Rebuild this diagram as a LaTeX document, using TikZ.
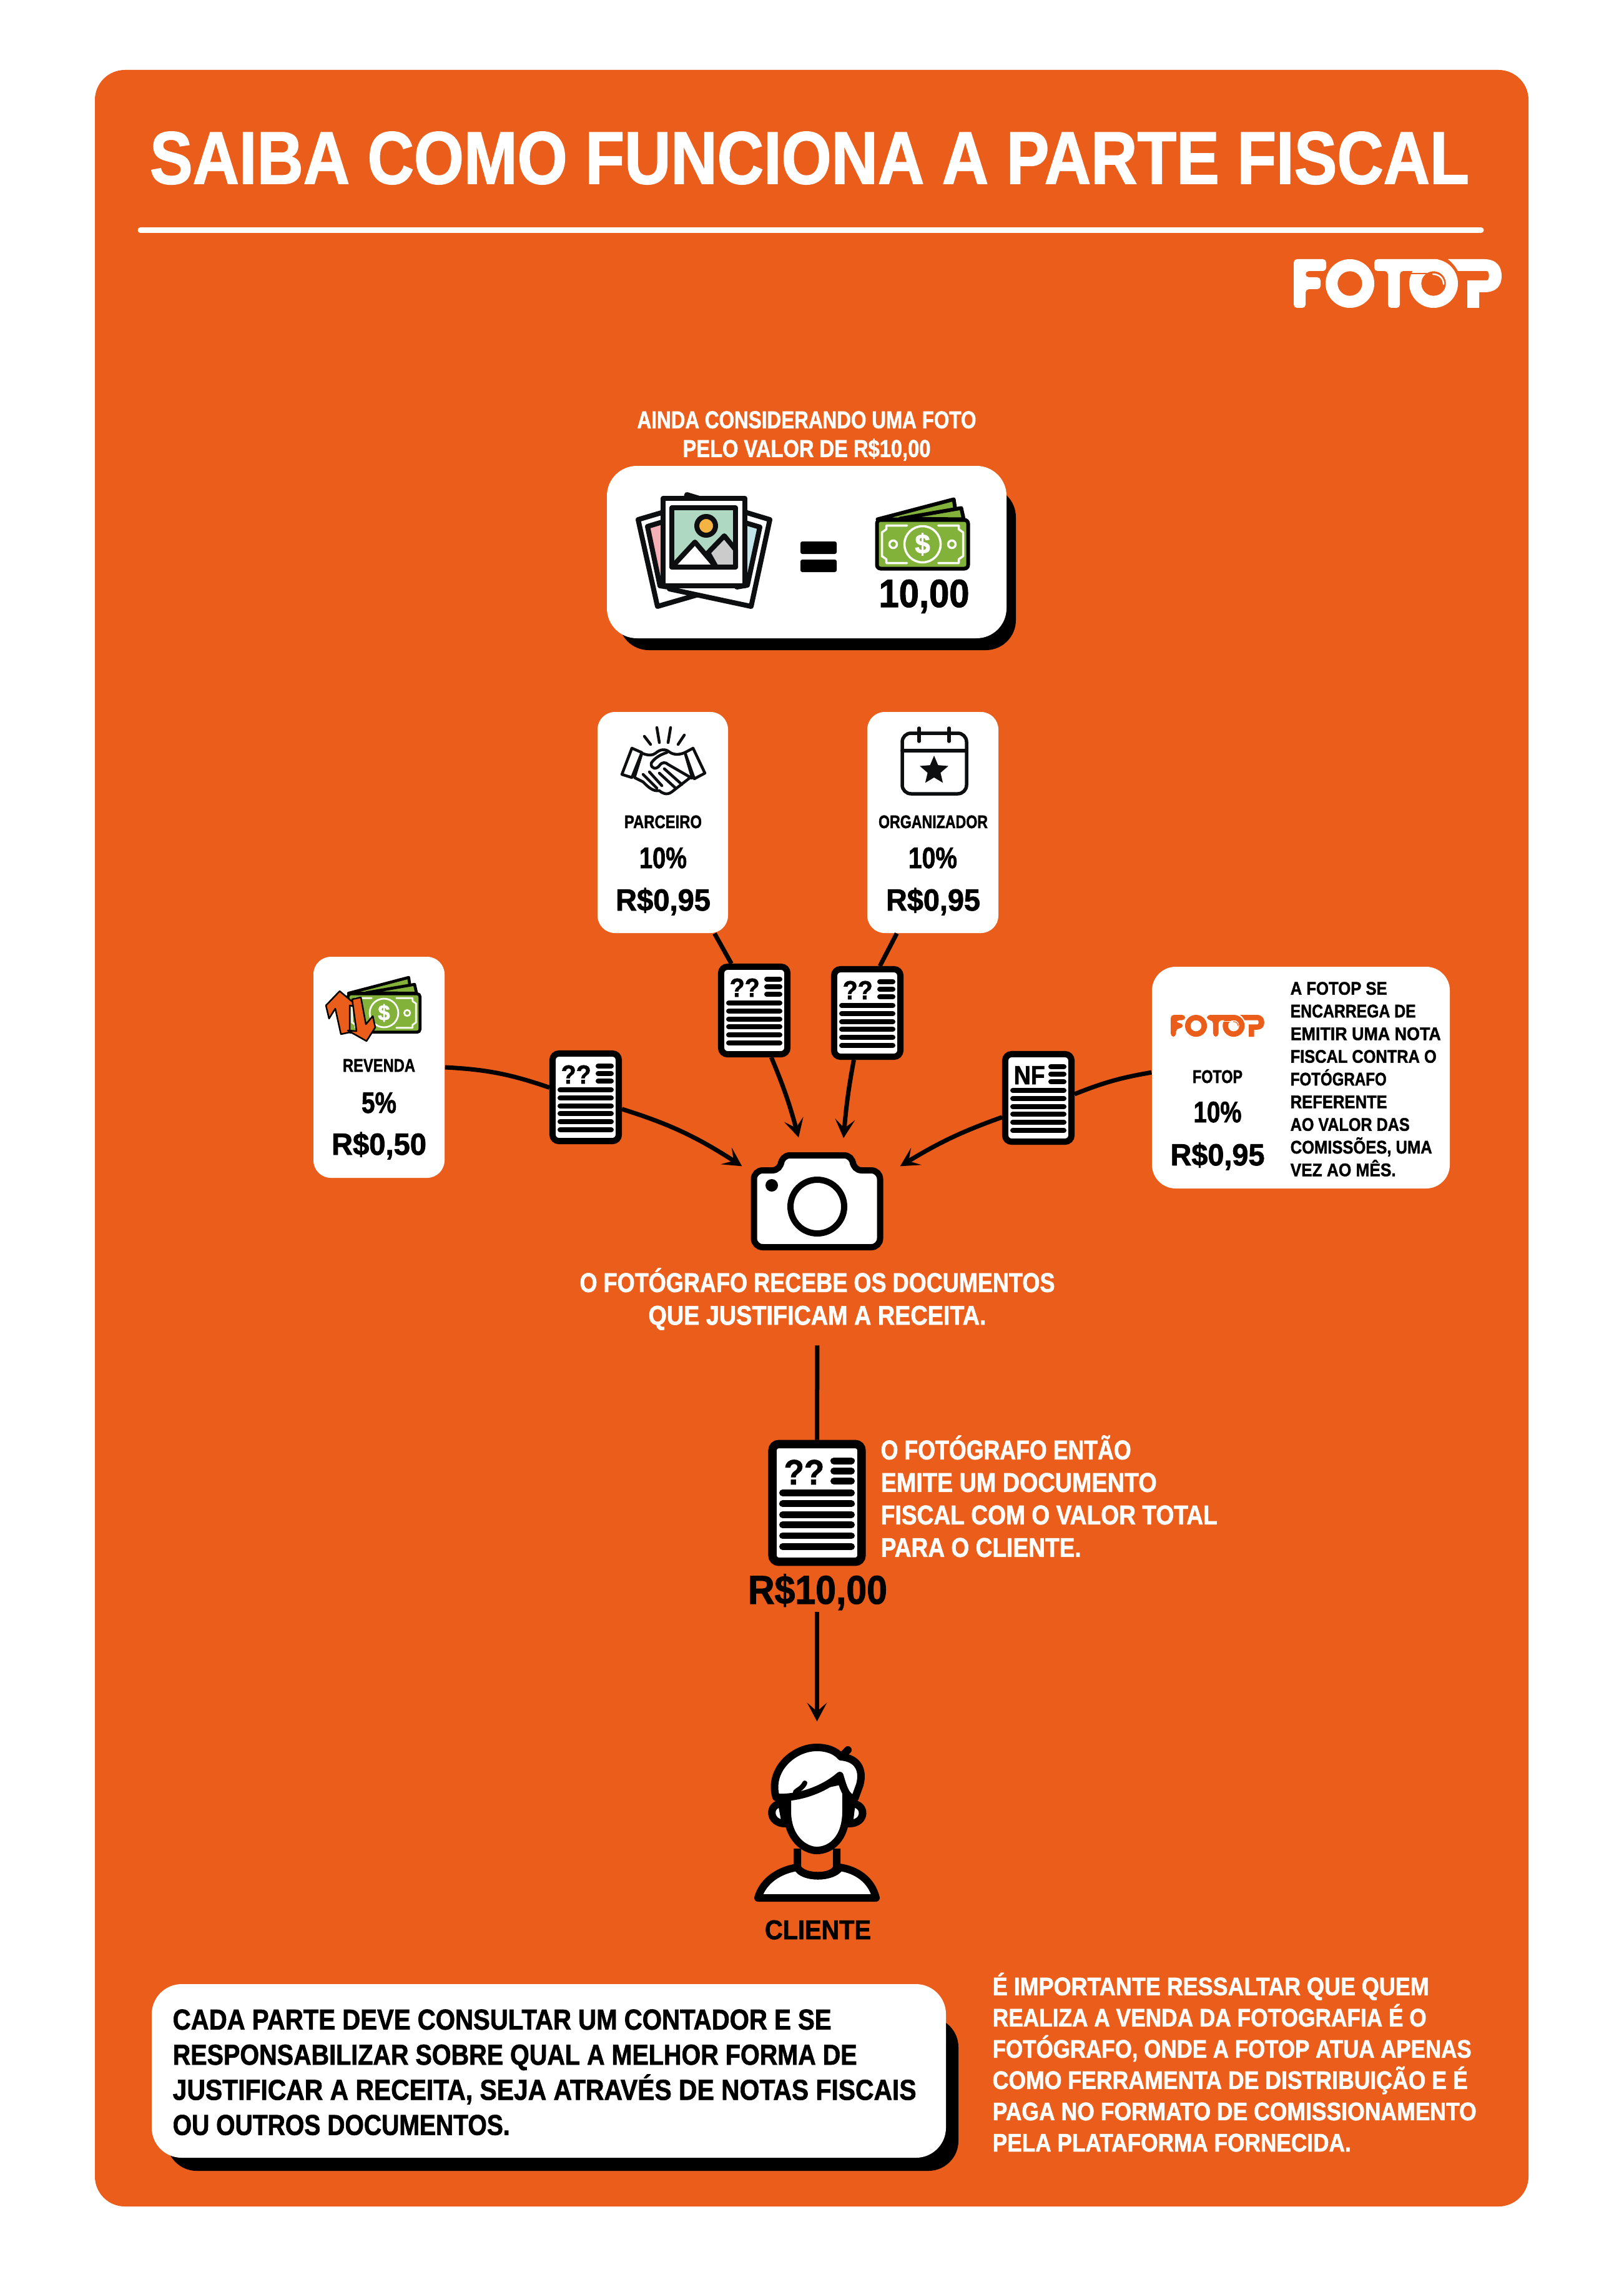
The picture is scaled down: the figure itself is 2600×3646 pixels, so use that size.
\documentclass[tikz,border=0pt]{standalone}
\usepackage{fontspec}
\usepackage{graphicx}
\usetikzlibrary{calc,arrows.meta,shapes.geometric,bending}
\newfontfamily\ff{Liberation Sans}[UprightFont={* Bold},FakeBold=1.6]
\newdimen\px \px=0.01cm
\lineskiplimit=-100pt
\definecolor{fotop}{RGB}{234,93,26}
\definecolor{ink}{RGB}{0,0,0}
\definecolor{soft}{RGB}{13,14,15}
\definecolor{bill}{RGB}{131,178,58}
\definecolor{mint}{RGB}{174,216,194}
\definecolor{sun}{RGB}{244,179,66}
\definecolor{rock}{RGB}{203,203,203}
\definecolor{pinkc}{RGB}{243,176,182}
\definecolor{bluec}{RGB}{191,227,232}
\newcommand\fit[2]{\resizebox{#1\px}{\height}{#2}}
\newcommand\first{\rule{0pt}{40\px}}
\tikzset{
  card/.style={fill=white,inner sep=0pt,rounded corners=#1},
  para/.style n args={2}{inner sep=0pt,font=\ff\fontsize{#1}{#2}\selectfont},
  lbl/.style={inner sep=0pt,anchor=base,text=ink,font=\ff\fontsize{#1}{#1}\selectfont},
  conn/.style={draw=ink,line width=7\px},
  tip/.style={-{Stealth[length=8.5pt,width=9pt,inset=4pt]}},
  docbox/.style={draw=ink,fill=white,inner sep=0pt,rounded corners=10\px},
  glyph/.style={draw=soft,line join=round,line cap=round},
  billc/.style={draw=white,line join=round,line cap=round},
}
% name, cx, cy, scale, label, label width
\newcommand\docicon[6]{%
  \node[docbox,line width=#4*10\px,minimum width=#4*1.06cm,minimum height=#4*1.40cm] (#1) at (#2,#3) {};
  \begin{scope}[shift={(#2,#3)},scale=#4]
    \foreach \yy in {-12,1,14,26,39,52}{\draw[ink,line width=#4*8\px,line cap=round] (-41,\yy) -- (41,\yy);}
    \foreach \yy in {-50,-38,-26}{\draw[ink,line width=#4*8\px,line cap=round] (20,\yy) -- (41,\yy);}
    \node[inner sep=0pt,anchor=base west,text=ink,transform shape,font=\ff\fontsize{11.9}{12}\selectfont] (#1l) at (-40,-22) {\fit{#6}{#5}};
  \end{scope}}
% cx, cy, scale
\newcommand\moneyicon[3]{%
  \begin{scope}[shift={(#1,#2)},scale=#3]
    \filldraw[fill=bill,draw=ink,line width=#3*6\px,line join=round] (-72,-40) -- (50,-72) -- (55,-40) -- cycle;
    \filldraw[fill=bill,draw=ink,line width=#3*6\px,line join=round] (-36,-41) -- (62,-58) -- (66,-40) -- cycle;
    \filldraw[fill=bill,draw=ink,line width=#3*6\px,rounded corners=#3*6\px] (-73,-39) rectangle (73,39);
    \draw[billc,line width=#3*3.5\px] (-25,-30) -- (-58,-30) -- (-58,-24) -- (-65,-19) -- (-65,19) -- (-58,24) -- (-58,30) -- (-25,30);
    \draw[billc,line width=#3*3.5\px] (25,-30) -- (58,-30) -- (58,-24) -- (65,-19) -- (65,19) -- (58,24) -- (58,30) -- (25,30);
    \draw[billc,line width=#3*3.5\px] (0,0) circle (29);
    \draw[billc,line width=#3*3.5\px] (-47,0) circle (6);
    \draw[billc,line width=#3*3.5\px] (47,0) circle (6);
    \node[inner sep=0pt,text=white,transform shape,font=\ff\fontsize{12.5}{13}\selectfont] (dollar#1) at (0,0) {\$};
  \end{scope}}
% x, y, scale, fg, bg
\newcommand\fotoplogo[5]{%
  \begin{scope}[shift={(#1,#2)},scale=#3]
    \fill[#4,rounded corners=1.5] (0,0) -- (52,0) -- (52,19) -- (19,19) -- (19,29) -- (43,29) -- (43,48) -- (19,48) -- (19,78) -- (0,78) -- cycle;
    \fill[#4,even odd rule] (90,39) circle (39) (90,39) circle (19.7);
    \fill[#4,even odd rule] (224,39) circle (39) (224,39) circle (19.5);
    \fill[#4,rounded corners=1.5] (129,0) -- (235,0) -- (235,19) -- (170,19) -- (170,78) -- (151,78) -- (151,19) -- (129,19) -- cycle;
    \fill[#4] (247,0) -- (305,0) .. controls (325,0) and (333,12) .. (333,27) .. controls (333,42) and (325,53) .. (305,53) -- (297,53) -- (297,78) -- (278,78) -- (278,34) -- (309,34) .. controls (314,34) and (314,19) .. (309,19) -- (263,19) .. controls (258,10) and (253,5) .. (247,0) -- cycle;
    \fill[#5] (224,39) circle (19.5);
    \draw[#5,line width=#3*1.5\px] (187,23) -- (213,23);
    \draw[#4,line width=#3*2.5\px,line cap=round] (223,24) .. controls (233,24) and (240,31) .. (240,40);
  \end{scope}}
\begin{document}
\begin{tikzpicture}[x=0.01cm,y=-0.01cm]
\useasboundingbox (0,0) rectangle (2600,3646);
\fill[white] (0,0) rectangle (2600,3646);
\fill[fotop,rounded corners=48\px] (152,112) rectangle (2448,3533);

% title
\node[lbl=33.8,text=white] (title) at (1296.5,294) {\fit{2113}{SAIBA COMO FUNCIONA A PARTE FISCAL}};
\draw[white,line width=9\px,line cap=round] (225,368.5) -- (2372,368.5);
\fotoplogo{2072}{415}{1}{white}{fotop}

% intro
\node[para={11.1}{13.1},align=center,anchor=north,text=white] (intro) at (1292,645) {\first\fit{543}{AINDA CONSIDERANDO UMA FOTO}\\\fit{397}{PELO VALOR DE R\$10,00}};
\fill[ink,rounded corners=48\px] (991,780) rectangle (1627,1041);
\node[card=48\px,minimum width=640\px,minimum height=276\px] (valuebox) at (1292,884) {};

% photos
\begin{scope}[line width=8\px]
\filldraw[glyph,fill=white] (1022,832) -- (1130,800) -- (1160,940) -- (1053,971) -- cycle;
\filldraw[glyph,fill=pinkc] (1037,843) -- (1070,833) -- (1070,940) -- (1057,938) -- cycle;
\filldraw[glyph,fill=white] (1233,832) -- (1100,792) -- (1072,943) -- (1203,971) -- cycle;
\filldraw[glyph,fill=bluec] (1217,844) -- (1180,833) -- (1180,940) -- (1197,937) -- cycle;
\filldraw[glyph,fill=white] (1062,798) rectangle (1193,938);
\filldraw[glyph,fill=mint] (1076,813) rectangle (1178,908);
\filldraw[glyph,fill=rock] (1134,885) -- (1160,858) -- (1178,880) -- (1178,908) -- (1147,908) -- cycle;
\filldraw[glyph,fill=white] (1076,908) -- (1113,868) -- (1147,908) -- cycle;
\filldraw[glyph,fill=sun] (1131,842) circle (15);
\end{scope}
% equals
\fill[ink,rounded corners=3\px] (1282,867) rectangle (1340,887);
\fill[ink,rounded corners=3\px] (1282,896) rectangle (1340,916);
\moneyicon{1477.5}{871.5}{1}
\node[lbl=17.9] (ten) at (1480,972) {\fit{145}{10,00}};

% cards
\node[card=28\px,minimum width=209\px,minimum height=354\px] (parceiro) at (1061.5,1317) {};
\node[card=28\px,minimum width=210\px,minimum height=354\px] (organizador) at (1494,1317) {};
\node[card=28\px,minimum width=210\px,minimum height=354\px] (revenda) at (607,1709) {};
\node[card=38\px,minimum width=477\px,minimum height=355\px] (fotopcard) at (2083.5,1725.5) {};

% card text
\node[lbl=8.3] (pa) at (1062,1326) {\fit{124}{PARCEIRO}};
\node[lbl=13.5] (pb) at (1062,1390) {\fit{76}{10\%}};
\node[lbl=13.9] (pc) at (1062,1458) {\fit{152}{R\$0,95}};
\node[lbl=8.3] (oa) at (1494.5,1326) {\fit{175}{ORGANIZADOR}};
\node[lbl=13.5] (ob) at (1494,1390) {\fit{78}{10\%}};
\node[lbl=13.9] (oc) at (1494.5,1458) {\fit{151}{R\$0,95}};
\node[lbl=8.3] (ra) at (607,1716) {\fit{116}{REVENDA}};
\node[lbl=13.5] (rb) at (607,1782) {\fit{56}{5\%}};
\node[lbl=13.9] (rc) at (607,1849) {\fit{152}{R\$0,50}};
\node[lbl=8.3] (fa) at (1950,1734) {\fit{80}{FOTOP}};
\node[lbl=13.5] (fb) at (1950,1797) {\fit{77}{10\%}};
\node[lbl=13.9] (fc) at (1950,1866) {\fit{151}{R\$0,95}};
\node[para={8.3}{10.33},align=left,anchor=north west,text=ink] (fnote) at (2066,1552) {\first\fit{155}{A FOTOP SE}\\\fit{201}{ENCARREGA DE}\\\fit{241}{EMITIR UMA NOTA}\\\fit{234}{FISCAL CONTRA O}\\\fit{154}{FOTÓGRAFO}\\\fit{155}{REFERENTE}\\\fit{191}{AO VALOR DAS}\\\fit{227}{COMISSÕES, UMA}\\\fit{169}{VEZ AO MÊS.}};
\fotoplogo{1875}{1625}{0.45}{fotop}{white}

% handshake
\begin{scope}[line width=4.5\px]
\draw[glyph] (1032,1179) -- (1042,1192);
\draw[glyph] (1052,1165) -- (1056,1189);
\draw[glyph] (1074,1165) -- (1070,1189);
\draw[glyph] (1096,1177) -- (1086,1192);
\filldraw[glyph,fill=white] (1012,1198) -- (1028,1205) -- (1012,1245) -- (996,1240) -- cycle;
\filldraw[glyph,fill=white] (1110,1198) -- (1097,1205) -- (1112,1247) -- (1129,1238) -- cycle;
\filldraw[glyph,fill=white] (1028,1206) .. controls (1038,1210) and (1045,1210) .. (1050,1206) .. controls (1058,1199) and (1066,1199) .. (1072,1204) .. controls (1080,1210) and (1090,1208) .. (1097,1205) -- (1108,1243) -- (1076,1268) .. controls (1068,1274) and (1060,1270) .. (1056,1266) .. controls (1045,1268) and (1036,1258) .. (1030,1252) -- (1016,1245) -- cycle;
\draw[glyph] (1068,1205) .. controls (1058,1208) and (1048,1214) .. (1043,1222) .. controls (1042,1232) and (1052,1232) .. (1056,1226) .. controls (1060,1220) and (1066,1220) .. (1070,1224) -- (1108,1246);
\draw[glyph] (1064,1231) -- (1092,1256);
\draw[glyph] (1056,1238) -- (1082,1262);
\draw[glyph] (1030,1240) -- (1052,1262);
\draw[glyph] (1040,1236) -- (1060,1258);
\end{scope}
% calendar
\begin{scope}[line width=5.5\px]
\draw[glyph,rounded corners=14\px] (1445,1174) rectangle (1548,1271);
\draw[glyph] (1445,1202) -- (1548,1202);
\draw[glyph] (1472,1166) -- (1472,1187);
\draw[glyph] (1520,1166) -- (1520,1187);
\node[star,star points=5,star point ratio=2.2,fill=soft,inner sep=0pt,minimum size=0.48cm] (calstar) at (1496,1234) {};
\end{scope}
% resale icon
\moneyicon{615}{1622}{0.79}
\filldraw[fill=fotop,draw=ink,line width=2.5\px,line join=round] (544,1587) -- (575,1613) -- (560,1610) -- (560,1653) -- (546,1656) -- (537,1615) -- (527,1631) -- (522,1610) -- cycle;
\filldraw[fill=fotop,draw=ink,line width=2.5\px,line join=round] (587,1667) -- (557,1650) -- (571,1651) -- (564,1600) -- (578,1597) -- (586,1640) -- (597,1627) -- (601,1645) -- cycle;

% documents
\docicon{da}{938}{1757}{1}{??}{48}
\docicon{db}{1208}{1618}{1}{??}{48}
\docicon{dc}{1389}{1622}{1}{??}{48}
\docicon{dd}{1663}{1758}{1}{NF}{50}
\docicon{de}{1308.5}{2406.5}{1.345}{??}{48}

% camera
\node[inner sep=0pt,minimum width=211\px,minimum height=155\px] (camera) at (1308.5,1923.5) {};
\filldraw[fill=white,draw=ink,line width=10\px,rounded corners=14\px] (1207.5,1874) -- (1251,1874) -- (1251,1850) -- (1366,1850) -- (1366,1874) -- (1409.5,1874) -- (1409.5,1997) -- (1207.5,1997) -- cycle;
\filldraw[fill=white,draw=ink,line width=10\px] (1309,1932) circle (43);
\fill[ink] (1236,1898) circle (10);

% connectors
\draw[conn] (parceiro.-65) -- (db.116);
\draw[conn] (organizador.-108) -- (dc.75);
\draw[conn] (revenda.east) to[bend left=8] (da.165);
\draw[conn] (fotopcard.178) to[bend right=6] (dd.6);
\draw[conn,tip] (da.-18) to[bend left=8] ($(camera.north west)+(-14,22)$);
\draw[conn,tip] (db.-70) to[bend left=4] ($(camera.north)+(-29.5,-24)$);
\draw[conn,tip] (dc.-106) to[bend right=3] ($(camera.north)+(42.5,-23)$);
\draw[conn,tip] (dd.208) to[bend right=6] ($(camera.north east)+(27,22)$);

% lower text
\node[para={12.3}{14.9},align=center,anchor=north,text=white] (recebe) at (1309,2028) {\first\fit{761}{O FOTÓGRAFO RECEBE OS DOCUMENTOS}\\\fit{541}{QUE JUSTIFICAM A RECEITA.}};
\node[para={12.3}{14.8},align=left,anchor=north west,text=white] (emite) at (1410,2296) {\first\fit{401}{O FOTÓGRAFO ENTÃO}\\\fit{442}{EMITE UM DOCUMENTO}\\\fit{539}{FISCAL COM O VALOR TOTAL}\\\fit{321}{PARA O CLIENTE.}};
\node[lbl=18.3] (rten) at (1309.5,2568) {\fit{223}{R\$10,00}};

% client
\node[inner sep=0pt,minimum width=201\px,minimum height=253\px] (person) at (1308.5,2918.5) {};
\draw[conn,shorten <=24\px] (recebe.south) -- (de.north);
\draw[conn,tip,shorten >=35\px] ($(rten.base)+(-1,13)$) -- (person.north);
\begin{scope}[line width=12\px]
\filldraw[draw=ink,fill=white,line join=round] (1214,3039) .. controls (1222,3010) and (1250,2994) .. (1277,2990) .. controls (1285,3008) and (1335,3008) .. (1345,2990) .. controls (1372,2994) and (1396,3010) .. (1403,3039) -- cycle;
\draw[ink] (1277,2960) -- (1277,2990) .. controls (1285,3008) and (1335,3008) .. (1340,2990) -- (1340,2960);
\filldraw[draw=ink,fill=white] (1252,2888) .. controls (1230,2888) and (1230,2920) .. (1258,2920) -- cycle;
\filldraw[draw=ink,fill=white] (1364,2888) .. controls (1388,2888) and (1388,2920) .. (1360,2920) -- cycle;
\filldraw[draw=ink,fill=white] (1261,2870) -- (1261,2900) .. controls (1261,2945) and (1290,2963) .. (1308,2963) .. controls (1330,2963) and (1355,2945) .. (1355,2900) -- (1355,2850) -- cycle;
\filldraw[draw=ink,fill=white,line join=round] (1243,2878) .. controls (1230,2835) and (1270,2798) .. (1308,2798) .. controls (1325,2798) and (1338,2803) .. (1347,2813) .. controls (1372,2815) and (1384,2832) .. (1377,2858) -- (1369,2880) .. controls (1355,2880) and (1350,2860) .. (1345,2843) .. controls (1320,2865) and (1280,2880) .. (1243,2878) -- cycle;
\draw[ink,line cap=round] (1347,2813) -- (1358,2802);
\draw[ink,line width=8\px,line cap=round] (1275,2872) .. controls (1270,2868) and (1284,2866) .. (1289,2855);
\end{scope}
\node[lbl=12.3] (cliente) at (1310,3105) {\fit{170}{CLIENTE}};

% bottom
\fill[ink,rounded corners=48\px] (267,3230) rectangle (1535,3476);
\node[card=48\px,minimum width=1272\px,minimum height=278\px] (notebox) at (879,3316) {};
\node[para={13.1}{16.0},align=left,anchor=north west,text=ink] (notetext) at (276,3209) {\first\fit{1055}{CADA PARTE DEVE CONSULTAR UM CONTADOR E SE}\\\fit{1096}{RESPONSABILIZAR SOBRE QUAL A MELHOR FORMA DE}\\\fit{1191}{JUSTIFICAR A RECEITA, SEJA ATRAVÉS DE NOTAS FISCAIS}\\\fit{540}{OU OUTROS DOCUMENTOS.}};
\node[para={11.5}{14.23},align=left,anchor=north west,text=white] (sidetext) at (1589,3154) {\first\fit{699}{É IMPORTANTE RESSALTAR QUE QUEM}\\\fit{695}{REALIZA A VENDA DA FOTOGRAFIA É O}\\\fit{767}{FOTÓGRAFO, ONDE A FOTOP ATUA APENAS}\\\fit{761}{COMO FERRAMENTA DE DISTRIBUIÇÃO E É}\\\fit{775}{PAGA NO FORMATO DE COMISSIONAMENTO}\\\fit{574}{PELA PLATAFORMA FORNECIDA.}};
\end{tikzpicture}
\end{document}
